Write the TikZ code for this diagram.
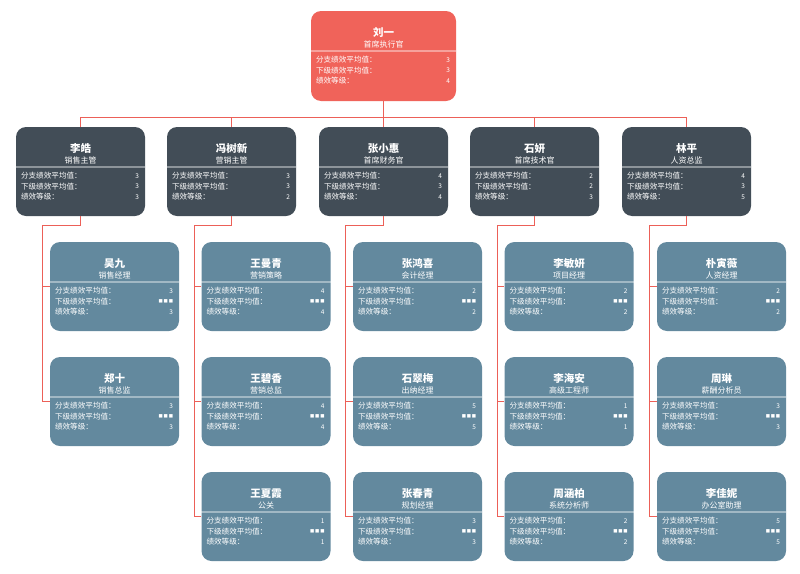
\documentclass[tikz,border=0pt]{standalone}
\usepackage{fontspec}
\setmainfont{Noto Sans CJK SC}
\newfontfamily\dvfont{DejaVu Sans}
\definecolor{cTop}{RGB}{240,99,90}
\definecolor{cMid}{RGB}{66,77,87}
\definecolor{cLeaf}{RGB}{99,137,158}
\definecolor{cLine}{RGB}{236,96,88}
\tikzset{
  topbox/.style={fill=cTop, rounded corners=10pt, minimum width=145pt, minimum height=90pt, inner sep=0pt},
  midbox/.style={fill=cMid, rounded corners=10pt, minimum width=129pt, minimum height=89pt, inner sep=0pt},
  leafbox/.style={fill=cLeaf, rounded corners=10pt, minimum width=129pt, minimum height=89pt, inner sep=0pt},
  nm/.style={text=white, font=\bfseries\fontsize{10.5}{10.5}\selectfont, inner sep=0pt},
  tt/.style={text=white, font=\fontsize{8}{8}\selectfont, inner sep=0pt},
  lb/.style={text=white, font=\fontsize{7.6}{7.6}\selectfont, inner sep=0pt, anchor=west},
  vl/.style={text=white, font=\fontsize{6.5}{6.5}\selectfont, inner sep=0pt, anchor=east},
  divl/.style={draw=white, draw opacity=0.4, line width=1.6pt},
  conn/.style={draw=cLine, line width=0.9pt}
}
\newcommand\obox[8]{%
  \node[#3] (#1) at (#2) {};
  \node[nm] (#1n) at ([yshift=-22pt]#1.north) {#4};
  \node[tt] (#1t) at ([yshift=-34pt]#1.north) {#5};
  \draw[divl] ([yshift=-40pt]#1.north west) -- ([yshift=-40pt]#1.north east);
  \node[lb] (#1a) at ([xshift=5pt,yshift=-49pt]#1.north west) {分支绩效平均值：};
  \node[vl] (#1av) at ([xshift=-6pt,yshift=-49pt]#1.north east) {#6};
  \node[lb] (#1b) at ([xshift=5pt,yshift=-59.5pt]#1.north west) {下级绩效平均值：};
  \node[vl] (#1bv) at ([xshift=-6pt,yshift=-59.5pt]#1.north east) {#7};
  \node[lb] (#1c) at ([xshift=5pt,yshift=-70pt]#1.north west) {绩效等级：};
  \node[vl] (#1cv) at ([xshift=-6pt,yshift=-70pt]#1.north east) {#8};
}
\newcommand\dts{{\dvfont\fontsize{4.5}{4.5}\selectfont ■\,■\,■}}
\begin{document}
\begin{tikzpicture}[x=1pt,y=-1pt]
\useasboundingbox (0,0) rectangle (800,573);
% top
\obox{top}{383.5,56}{topbox}{刘一}{首席执行官}{3}{3}{4}
% row 2
\obox{r1}{80.5,171.5}{midbox}{李皓}{销售主管}{3}{3}{3}
\obox{r2}{231.5,171.5}{midbox}{冯树新}{营销主管}{3}{3}{2}
\obox{r3}{383.5,171.5}{midbox}{张小惠}{首席财务官}{4}{3}{4}
\obox{r4}{534.5,171.5}{midbox}{石妍}{首席技术官}{2}{2}{3}
\obox{r5}{686.5,171.5}{midbox}{林平}{人资总监}{4}{3}{5}
% leaves col 1
\obox{la1}{114.5,286.5}{leafbox}{吴九}{销售经理}{3}{\dts}{3}
\obox{la2}{114.5,401.5}{leafbox}{郑十}{销售总监}{3}{\dts}{3}
% col 2
\obox{lb1}{266,286.5}{leafbox}{王曼青}{营销策略}{4}{\dts}{4}
\obox{lb2}{266,401.5}{leafbox}{王碧香}{营销总监}{4}{\dts}{4}
\obox{lb3}{266,516.5}{leafbox}{王夏霞}{公关}{1}{\dts}{1}
% col 3
\obox{lc1}{417.5,286.5}{leafbox}{张鸿喜}{会计经理}{2}{\dts}{2}
\obox{lc2}{417.5,401.5}{leafbox}{石翠梅}{出纳经理}{5}{\dts}{5}
\obox{lc3}{417.5,516.5}{leafbox}{张春青}{规划经理}{3}{\dts}{3}
% col 4
\obox{ld1}{569,286.5}{leafbox}{李敏妍}{项目经理}{2}{\dts}{2}
\obox{ld2}{569,401.5}{leafbox}{李海安}{高级工程师}{1}{\dts}{1}
\obox{ld3}{569,516.5}{leafbox}{周涵柏}{系统分析师}{2}{\dts}{2}
% col 5
\obox{le1}{721.5,286.5}{leafbox}{朴寅薇}{人资经理}{2}{\dts}{2}
\obox{le2}{721.5,401.5}{leafbox}{周琳}{薪酬分析员}{3}{\dts}{3}
\obox{le3}{721.5,516.5}{leafbox}{李佳妮}{办公室助理}{5}{\dts}{5}
% connectors top -> row 2
\draw[conn] (top.south) -- ++(0,16) coordinate (hub);
\foreach \r in {r1,r2,r3,r4,r5} \draw[conn] (hub) -| (\r.north);
% row 2 -> leaves
\draw[conn] (r1.south) -- ++(0,9) -| ([xshift=-7pt]la2.west) -- (la2.west);
\draw[conn] ([xshift=-7pt]la1.west) -- (la1.west);
\foreach \c/\r in {lb/r2,lc/r3,ld/r4,le/r5}{
  \draw[conn] (\r.south) -- ++(0,9) -| ([xshift=-7pt]\c3.west) -- (\c3.west);
  \draw[conn] ([xshift=-7pt]\c1.west) -- (\c1.west);
  \draw[conn] ([xshift=-7pt]\c2.west) -- (\c2.west);
}
\end{tikzpicture}
\end{document}
